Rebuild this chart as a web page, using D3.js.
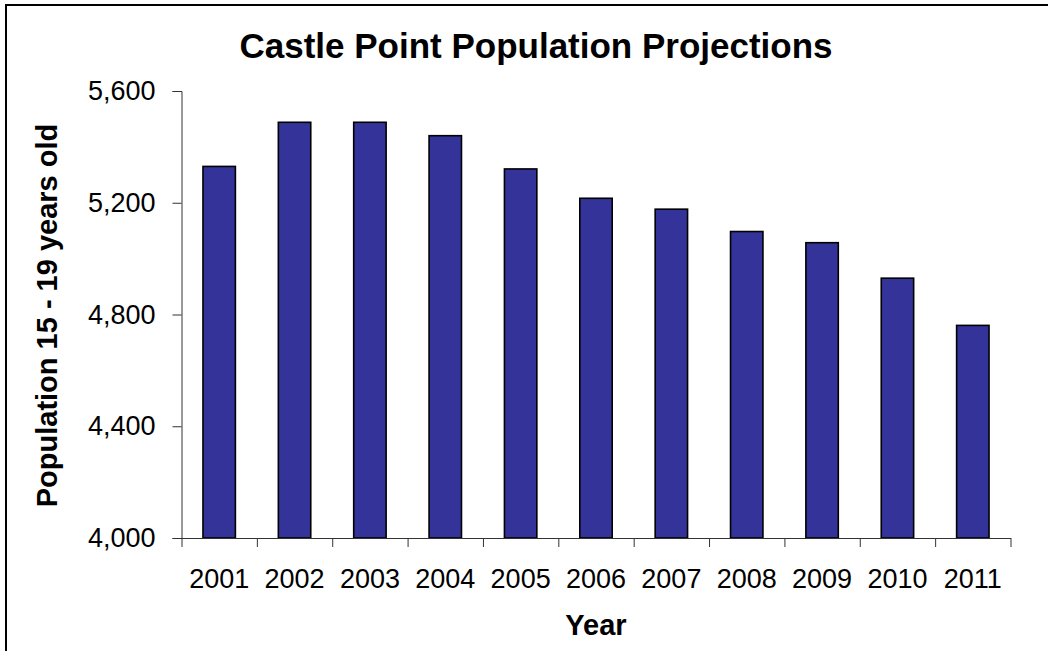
<!DOCTYPE html>
<html>
<head>
<meta charset="utf-8">
<script src="https://cdn.jsdelivr.net/npm/d3@7/dist/d3.min.js"></script>
<style>
  html, body { margin: 0; padding: 0; background: #fff; }
  svg { display: block; }
  text { font-family: Arial, "Liberation Sans", sans-serif; fill: #000; }
</style>
</head>
<body>
<svg id="chart" width="1048" height="651"></svg>
<script>
// Castle Point projected population aged 15-19, by year
const years = ["2001", "2002", "2003", "2004", "2005", "2006", "2007", "2008", "2009", "2010", "2011"];
const population = [5330, 5488, 5488, 5440, 5321, 5216, 5177, 5097, 5057, 4930, 4761];
const yTicks = [4000, 4400, 4800, 5200, 5600];

const svg = d3.select("#chart");
const W = 1048, H = 651;
const plot = { left: 181.5, right: 1010.5, top: 91, bottom: 538 };

// outer chart frame (runs off the right and bottom edges)
svg.append("rect")
  .attr("x", 6).attr("y", 5)
  .attr("width", W + 20).attr("height", H + 20)
  .attr("fill", "#fff").attr("stroke", "#000").attr("stroke-width", 2);

const x = d3.scaleBand()
  .domain(years)
  .range([plot.left, plot.right])
  .paddingInner(0.57)
  .paddingOuter(0.285);

const y = d3.scaleLinear()
  .domain([yTicks[0], yTicks[yTicks.length - 1]])
  .range([plot.bottom, plot.top]);

// bars
svg.append("g")
  .selectAll("rect")
  .data(years)
  .join("rect")
  .attr("x", d => x(d))
  .attr("width", x.bandwidth())
  .attr("y", (d, i) => y(population[i]))
  .attr("height", (d, i) => y(yTicks[0]) - y(population[i]))
  .attr("fill", "#333399")
  .attr("stroke", "#000")
  .attr("stroke-width", 1.6);

// y axis
const yAxis = svg.append("g")
  .attr("transform", `translate(${plot.left},0)`)
  .call(d3.axisLeft(y).tickValues(yTicks).tickFormat(d3.format(",")).tickSize(9).tickPadding(17));
yAxis.selectAll("text").style("font-size", "27px");

// x axis: tick marks sit between categories
const boundary = d3.scaleLinear().domain([0, years.length]).range([plot.left, plot.right]);
svg.append("g")
  .attr("transform", `translate(0,${plot.bottom})`)
  .call(d3.axisBottom(boundary).tickValues(d3.range(0, years.length + 1)).tickFormat("").tickSize(9).tickSizeOuter(0));

const xAxis = svg.append("g")
  .attr("transform", `translate(0,${plot.bottom})`)
  .call(d3.axisBottom(x).tickSize(0).tickPadding(31));
xAxis.select(".domain").remove();
xAxis.selectAll("text").style("font-size", "27px");

svg.selectAll(".domain, .tick line").attr("stroke", "#333").attr("stroke-width", 1);

// titles
svg.append("text")
  .attr("x", 536).attr("y", 58)
  .attr("text-anchor", "middle")
  .style("font-size", "35px").style("font-weight", "bold")
  .text("Castle Point Population Projections");

svg.append("text")
  .attr("x", (plot.left + plot.right) / 2).attr("y", 635)
  .attr("text-anchor", "middle")
  .style("font-size", "29px").style("font-weight", "bold")
  .text("Year");

svg.append("text")
  .attr("transform", `translate(57,${(plot.top + plot.bottom) / 2 + 1}) rotate(-90)`)
  .attr("text-anchor", "middle")
  .style("font-size", "29px").style("font-weight", "bold")
  .text("Population 15 - 19 years old");
</script>
</body>
</html>
